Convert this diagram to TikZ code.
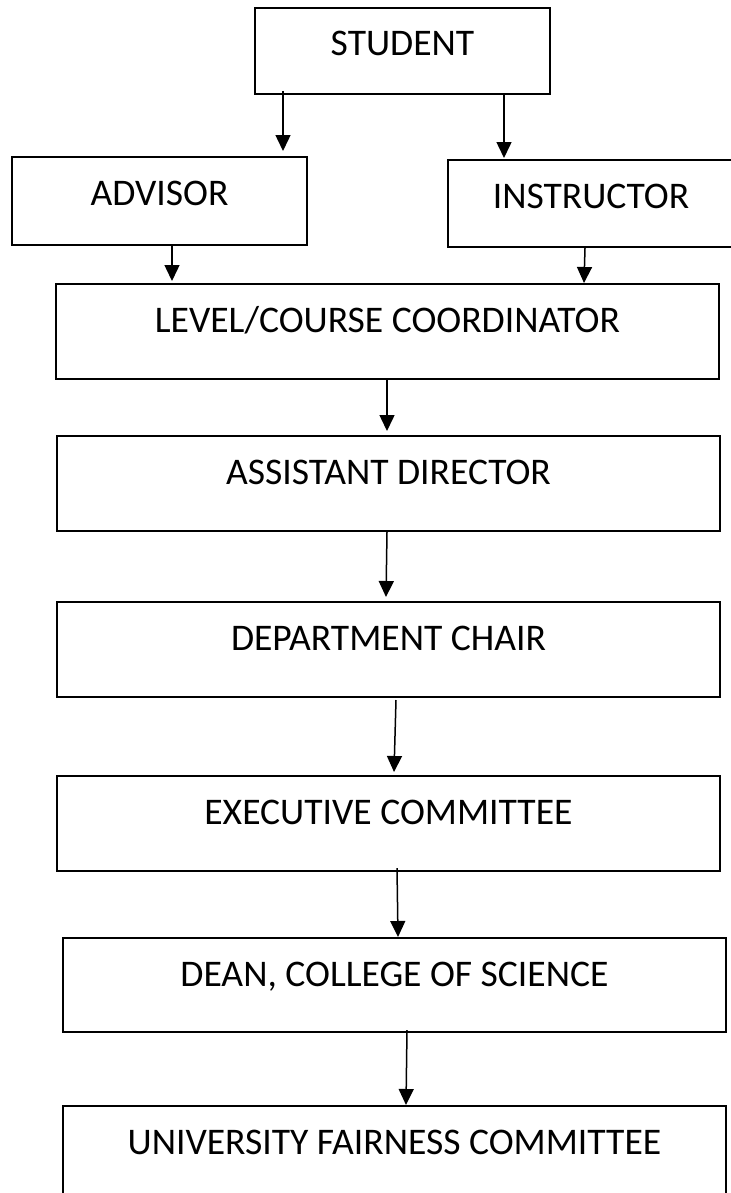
\documentclass[tikz,border=0pt]{standalone}
\usepackage{fontspec}
\setmainfont{Carlito}
\usepackage{tikz}
\usetikzlibrary{arrows.meta, positioning, calc}

\tikzset{
  box/.style={draw, line width=1pt, inner sep=0pt, text height=24pt, font=\fontsize{18.8}{22}\selectfont},
  arr/.style={->, line width=0.75pt}
}

\begin{document}
\begin{tikzpicture}[x=0.5pt,y=-0.5pt,>={Triangle[length=8pt,width=7.5pt]}]
% The page
\useasboundingbox[fill=white] (0,0) rectangle (731,1193);
% Top row
\node [box, minimum width=147.5pt, text depth=19pt] (student) at (402.5,51) {STUDENT};
\node [box, minimum width=147.5pt, text depth=20pt] (advisor) at (159.5,201) {ADVISOR};
\node [box, minimum width=143pt, text depth=19.5pt] (instructor) at (591,203.5) {INSTRUCTOR};
% The chain
\node [box, minimum width=331.5pt, text depth=23.5pt] (level) at (387.5,331.5) {LEVEL/COURSE COORDINATOR};
\node [box, minimum width=331.5pt, text depth=23.5pt] (assistant) at (388.5,483.5) {ASSISTANT DIRECTOR};
\node [box, minimum width=331.5pt, text depth=23.5pt] (chair) at (388.5,649.5) {DEPARTMENT CHAIR};
\node [box, minimum width=331.5pt, text depth=23.5pt] (executive) at (388.5,823.5) {EXECUTIVE COMMITTEE};
\node [box, minimum width=331.5pt, text depth=23pt] (dean) at (394.5,985) {DEAN, COLLEGE OF SCIENCE};
\node [box, minimum width=331.5pt, text depth=23.5pt] (fairness) at (394.5,1153.5) {UNIVERSITY FAIRNESS COMMITTEE};
% Arrows
\draw [arr] ([xshift=-59.75pt, yshift=2pt]student.south) -- ([xshift=61.75pt, yshift=2.5pt]advisor.north);
\draw [arr] ([xshift=50.75pt]student.south) -- ([xshift=-43.5pt, yshift=0.5pt]instructor.north);
\draw [arr] ([xshift=6.25pt]advisor.south) -- ([xshift=-107.75pt, yshift=1pt]level.north);
\draw [arr] ([xshift=-3pt]instructor.south) -- ([xshift=98.25pt]level.north);
\draw [arr] ([xshift=-0.25pt]level.south) -- ([xshift=-0.75pt, yshift=2pt]assistant.north);
\draw [arr] ([xshift=-0.75pt]assistant.south) -- ([xshift=-1.25pt, yshift=2pt]chair.north);
\draw [arr] ([xshift=3.75pt, yshift=-1pt]chair.south) -- ([xshift=2.75pt, yshift=1.5pt]executive.north);
\draw [arr] ([xshift=4.25pt, yshift=2pt]executive.south) -- ([xshift=1.75pt]dean.north);
\draw [arr] ([xshift=6.25pt, yshift=1.5pt]dean.south) -- ([xshift=5.75pt]fairness.north);
\end{tikzpicture}
\end{document}
